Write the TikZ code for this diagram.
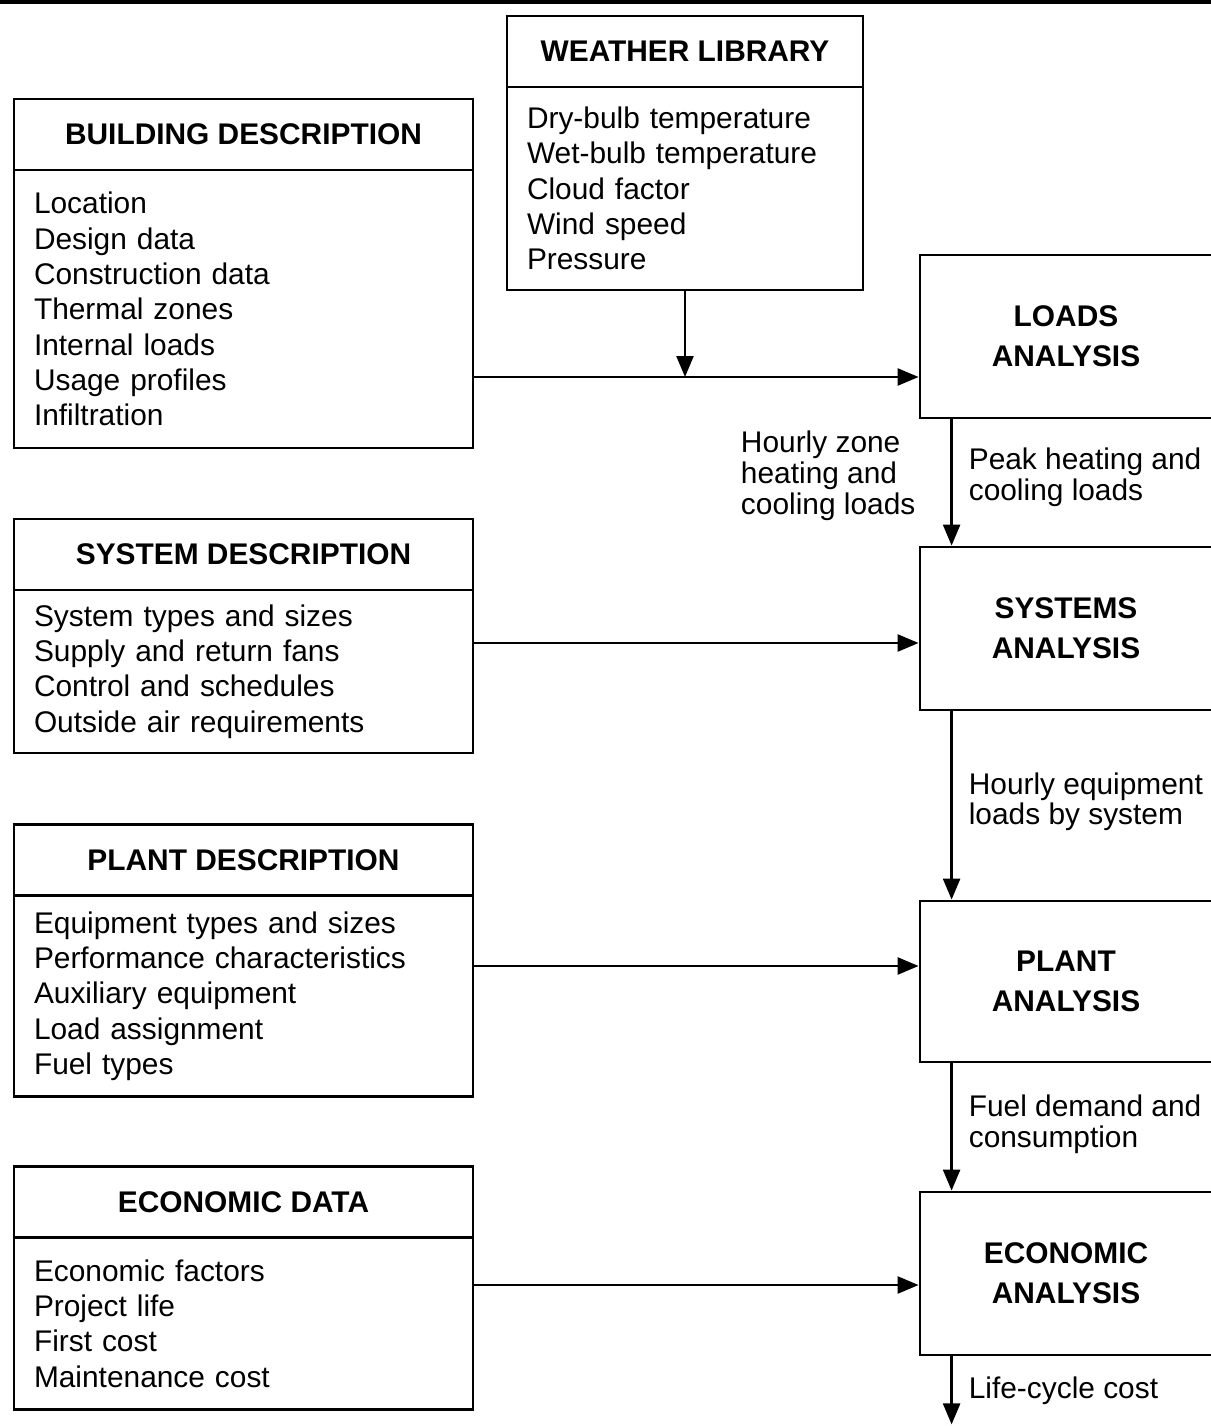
\documentclass[tikz,border=0pt]{standalone}
\usepackage{fontspec}
\setmainfont{Liberation Sans}
\usepackage{tikz}
\usetikzlibrary{arrows.meta,positioning,calc}

\begin{document}
\begin{tikzpicture}[
    font=\fontsize{17}{20.1}\selectfont,
    head/.style={
        draw,
        line width=1.6pt,
        outer sep=0pt,
        minimum width=9.18cm,
        minimum height=1.42cm,
        font=\fontsize{17}{20.1}\selectfont\bfseries
    },
    body/.style={
        draw,
        line width=1.6pt,
        outer sep=0pt,
        minimum width=9.18cm,
        text width=8.38cm,
        inner xsep=0.4cm,
        align=left
    },
    ana/.style={
        draw,
        line width=1.6pt,
        minimum width=5.84cm,
        minimum height=3.26cm,
        align=center,
        font=\fontsize{17}{22.8}\selectfont\bfseries
    },
    lbl/.style={inner sep=0pt, align=left, font=\fontsize{17}{17.6}\selectfont},
    line/.style={-{Triangle[length=0.42cm,width=0.34cm]}, line width=1.4pt}
]
\useasboundingbox (0,0) rectangle (24.22,-28.52);

% --- Top rule ---
\draw[line width=2.2pt] (0,-0.04) -- (24.22,-0.04);

% --- Weather library ---
\node[head, minimum width=7.12cm] (whead) at (13.7,-1.03) {WEATHER LIBRARY};
\node[body, below=0pt of whead, minimum width=7.12cm, text width=6.32cm,
      minimum height=4.06cm] (wbody)
    {Dry-bulb temperature\\Wet-bulb temperature\\Cloud factor\\Wind speed\\Pressure};

% --- Inputs (left column) ---
\node[head] (bhead) at (4.87,-2.69) {BUILDING DESCRIPTION};
\node[body, below=0pt of bhead, minimum height=5.56cm] (bbody)
    {Location\\Design data\\Construction data\\Thermal zones\\Internal loads\\Usage profiles\\Infiltration};

\node[head] (shead) at (4.87,-11.09) {SYSTEM DESCRIPTION};
\node[body, below=0pt of shead, minimum height=3.26cm] (sbody)
    {System types and sizes\\Supply and return fans\\Control and schedules\\Outside air requirements};

\node[head] (phead) at (4.87,-17.2) {PLANT DESCRIPTION};
\node[body, below=0pt of phead, minimum height=4.02cm] (pbody)
    {Equipment types and sizes\\Performance characteristics\\Auxiliary equipment\\Load assignment\\Fuel types};

\node[head] (ehead) at (4.87,-24.04) {ECONOMIC DATA};
\node[body, below=0pt of ehead, minimum height=3.44cm] (ebody)
    {Economic factors\\Project life\\First cost\\Maintenance cost};

% --- Analysis (right column) ---
\node[ana] (loads) at (21.32,-6.73) {LOADS\\ANALYSIS};
\node[ana] (systems) at (21.32,-12.57) {SYSTEMS\\ANALYSIS};
\node[ana, minimum height=3.22cm] (plant) at (21.32,-19.63) {PLANT\\ANALYSIS};
\node[ana] (econ) at (21.32,-25.47) {ECONOMIC\\ANALYSIS};

% --- Join points ---
\path (wbody.south) ++(0,-1.74) coordinate (bjoin);
\coordinate (sysin) at ([yshift=-0.29cm]systems.west);
\coordinate (plantin) at ([yshift=0.31cm]plant.west);
\coordinate (econin) at ([yshift=-0.23cm]econ.west);
\coordinate (lcc) at ([xshift=0.66cm,yshift=-1.36cm]econ.south west);

% --- Connections ---
\draw[line] (bbody.east |- bjoin) -- (loads.west |- bjoin);
\draw[line] (wbody.south) -- (bjoin);
\draw[line] (sbody.east |- sysin) -- (sysin);
\draw[line] (pbody.east |- plantin) -- (plantin);
\draw[line] (ebody.east |- econin) -- (econin);

\draw[line] ([xshift=0.66cm]loads.south west) --
    node[lbl, left=0.7cm, pos=0.45] (hzone) {Hourly zone\\heating and\\cooling loads}
    node[lbl, right=0.32cm, pos=0.46] (peak) {Peak heating and\\cooling loads}
    ([xshift=0.66cm]systems.north west);
\draw[line] ([xshift=0.66cm]systems.south west) --
    node[lbl, right=0.32cm, pos=0.48] (hequip) {Hourly equipment\\loads by system}
    ([xshift=0.66cm]plant.north west);
\draw[line] ([xshift=0.66cm]plant.south west) --
    node[lbl, right=0.32cm, pos=0.48] (fuel) {Fuel demand and\\consumption}
    ([xshift=0.66cm]econ.north west);
\draw[line] ([xshift=0.66cm]econ.south west) --
    node[lbl, right=0.32cm, pos=0.51] (life) {Life-cycle cost}
    (lcc);

\end{tikzpicture}
\end{document}
